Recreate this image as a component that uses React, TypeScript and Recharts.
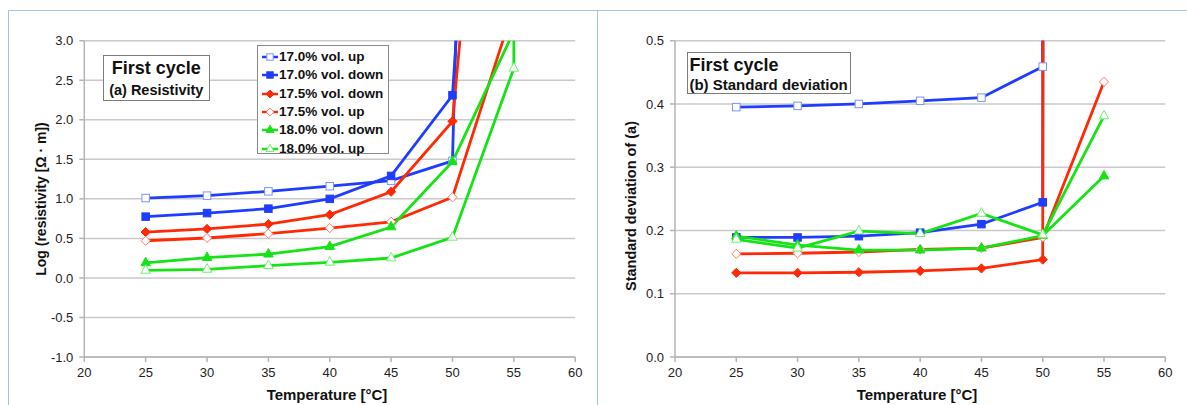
import React from 'react';
import { LineChart, Line, XAxis, YAxis, CartesianGrid, Legend } from 'recharts';

// ---------- data ----------
const temperatures = [25, 30, 35, 40, 45, 50, 55, 60];
const xTicks = [20, 25, 30, 35, 40, 45, 50, 55, 60];
const resistivityTicks = [-1, -0.5, 0, 0.5, 1, 1.5, 2, 2.5, 3];
const stdDevTicks = [0, 0.1, 0.2, 0.3, 0.4, 0.5];

// (a) log resistivity
const resUp170 = [1.01, 1.04, 1.095, 1.16, 1.23, 1.48, 30, null];
const resDown170 = [0.775, 0.82, 0.876, 1.0, 1.29, 2.31, 14, null];
const resDown175 = [0.58, 0.62, 0.68, 0.8, 1.09, 1.98, 10.4, null];
const resUp175 = [0.47, 0.505, 0.56, 0.63, 0.71, 1.02, 3.43, null];
const resDown180 = [0.19, 0.256, 0.3, 0.395, 0.644, 1.47, 3.12, null];
const resUp180 = [0.096, 0.108, 0.155, 0.197, 0.252, 0.513, 2.65, 5000];

// (b) standard deviation
const sdUp170 = [0.395, 0.397, 0.4, 0.405, 0.41, 0.459, 100, null];
const sdDown170 = [0.189, 0.189, 0.191, 0.1965, 0.21, 0.2445, 100, null];
const sdDown175 = [0.133, 0.133, 0.134, 0.136, 0.14, 0.154, 100, null];
const sdUp175 = [0.163, 0.164, 0.166, 0.17, 0.172, 0.189, 0.435, null];
const sdDown180 = [0.191, 0.177, 0.169, 0.169, 0.172, 0.192, 0.286, null];
const sdUp180 = [0.186, 0.172, 0.199, 0.195, 0.227, 0.193, 0.381, null];

// ---------- styles ----------
const FONT = '"Liberation Sans", Arial, Helvetica, sans-serif';
const BLUE = '#1f3cff';
const RED = '#ff2a05';
const GREEN = '#16e316';

type Shape = 'square' | 'diamond' | 'triangle';
interface SeriesDef {
  key: string;
  name: string;
  color: string;
  light: string;
  shape: Shape;
  filled: boolean;
}

const seriesDefs: SeriesDef[] = [
  { key: 'up170', name: '17.0% vol. up', color: BLUE, light: '#7d90ff', shape: 'square', filled: false },
  { key: 'down170', name: '17.0% vol. down', color: BLUE, light: BLUE, shape: 'square', filled: true },
  { key: 'down175', name: '17.5% vol. down', color: RED, light: RED, shape: 'diamond', filled: true },
  { key: 'up175', name: '17.5% vol. up', color: RED, light: '#ff7a66', shape: 'diamond', filled: false },
  { key: 'down180', name: '18.0% vol. down', color: GREEN, light: GREEN, shape: 'triangle', filled: true },
  { key: 'up180', name: '18.0% vol. up', color: GREEN, light: '#6cf26c', shape: 'triangle', filled: false },
];

function buildRows(cols: Record<string, (number | null)[]>) {
  return temperatures.map((t, i) => {
    const row: Record<string, number | null> = { t };
    Object.keys(cols).forEach((k) => {
      row[k] = cols[k][i];
    });
    return row;
  });
}

const resistivityRows = buildRows({
  up170: resUp170,
  down170: resDown170,
  down175: resDown175,
  up175: resUp175,
  down180: resDown180,
  up180: resUp180,
});

const stdDevRows = buildRows({
  up170: sdUp170,
  down170: sdDown170,
  down175: sdDown175,
  up175: sdUp175,
  down180: sdDown180,
  up180: sdUp180,
});

function MarkerShape({ cx, cy, def, scale = 1 }: { cx: number; cy: number; def: SeriesDef; scale?: number }) {
  const fill = def.filled ? def.color : '#ffffff';
  const stroke = def.filled ? def.color : def.light;
  const sw = 1;
  if (def.shape === 'square') {
    const s = 7.5 * scale;
    return <rect x={cx - s / 2} y={cy - s / 2} width={s} height={s} fill={fill} stroke={stroke} strokeWidth={sw} />;
  }
  if (def.shape === 'diamond') {
    const r = 4.6 * scale;
    const pts = `${cx},${cy - r} ${cx + r},${cy} ${cx},${cy + r} ${cx - r},${cy}`;
    return <polygon points={pts} fill={fill} stroke={stroke} strokeWidth={sw} />;
  }
  const w = 9.5 * scale;
  const h = 8.5 * scale;
  const pts = `${cx},${cy - (h * 2) / 3} ${cx + w / 2},${cy + h / 3} ${cx - w / 2},${cy + h / 3}`;
  return <polygon points={pts} fill={fill} stroke={stroke} strokeWidth={sw} />;
}

function makeDot(def: SeriesDef) {
  return (props: any) => {
    const { cx, cy, index } = props;
    const key = `${def.key}-dot-${index}`;
    if (cx == null || cy == null || !isFinite(cx) || !isFinite(cy)) return <g key={key} />;
    return (
      <g key={key}>
        <MarkerShape cx={cx} cy={cy} def={def} />
      </g>
    );
  };
}

function LegendBox() {
  return (
    <div
      style={{
        boxSizing: 'border-box',
        width: 132,
        height: 109,
        border: '1px solid #8a8a8a',
        background: '#ffffff',
        paddingTop: 2,
        paddingLeft: 3,
        fontFamily: FONT,
        fontWeight: 700,
        fontSize: 13.5,
        color: '#111',
      }}
    >
      {seriesDefs.map((d) => (
        <div key={d.key} style={{ height: 18.3, display: 'flex', alignItems: 'center', whiteSpace: 'nowrap' }}>
          <svg width={18} height={12} style={{ display: 'block', flex: 'none' }}>
            <line x1={1} y1={6} x2={17} y2={6} stroke={d.color} strokeWidth={2.5} />
            <MarkerShape cx={9} cy={6} def={d} scale={0.85} />
          </svg>
          <span style={{ lineHeight: '18px' }}>{d.name}</span>
        </div>
      ))}
    </div>
  );
}

const axisTick = { fill: '#222', fontSize: 13, fontFamily: FONT };
const axisLineStyle = { stroke: '#b4b4b4', strokeWidth: 1.5 };

function renderLines() {
  return seriesDefs.map((d) => (
    <Line
      key={d.key}
      type="linear"
      dataKey={d.key}
      name={d.name}
      stroke={d.color}
      strokeWidth={2.8}
      dot={makeDot(d)}
      activeDot={false}
      connectNulls={false}
      isAnimationActive={false}
    />
  ));
}

function ResistivityChart() {
  return (
    <LineChart
      width={600}
      height={405}
      data={resistivityRows}
      margin={{ top: 40.7, right: 24.8, bottom: 18, left: 24.3 }}
    >
      <CartesianGrid vertical={false} stroke="#c9c9c9" strokeWidth={1.5} />
      <XAxis
        dataKey="t"
        type="number"
        domain={[20, 60]}
        ticks={xTicks}
        interval={0}
        allowDataOverflow
        height={30}
        tick={axisTick}
        tickLine={axisLineStyle}
        axisLine={axisLineStyle}
        tickSize={5}
        tickMargin={6}
      />
      <YAxis
        type="number"
        domain={[-1, 3]}
        ticks={resistivityTicks}
        interval={0}
        allowDataOverflow
        width={60}
        tick={axisTick}
        tickLine={axisLineStyle}
        axisLine={axisLineStyle}
        tickSize={5}
        tickMargin={6}
        tickFormatter={(v: number) => v.toFixed(1)}
      />
      <Legend
        layout="vertical"
        align="center"
        verticalAlign="middle"
        wrapperStyle={{ position: 'absolute', left: 257, top: 45, width: 132, height: 109 }}
        content={() => <LegendBox />}
      />
      {renderLines()}
    </LineChart>
  );
}

function StdDevChart() {
  return (
    <LineChart
      width={587}
      height={405}
      data={stdDevRows}
      margin={{ top: 40.7, right: 21.7, bottom: 18, left: 15 }}
    >
      <CartesianGrid vertical={false} stroke="#c9c9c9" strokeWidth={1.5} />
      <XAxis
        dataKey="t"
        type="number"
        domain={[20, 60]}
        ticks={xTicks}
        interval={0}
        allowDataOverflow
        height={30}
        tick={axisTick}
        tickLine={axisLineStyle}
        axisLine={axisLineStyle}
        tickSize={5}
        tickMargin={6}
      />
      <YAxis
        type="number"
        domain={[0, 0.5]}
        ticks={stdDevTicks}
        interval={0}
        allowDataOverflow
        width={60}
        tick={axisTick}
        tickLine={axisLineStyle}
        axisLine={axisLineStyle}
        tickSize={5}
        tickMargin={6}
        tickFormatter={(v: number) => v.toFixed(1)}
      />
      {renderLines()}
    </LineChart>
  );
}

const labelBase: React.CSSProperties = {
  position: 'absolute',
  fontFamily: FONT,
  fontWeight: 700,
  color: '#111',
  whiteSpace: 'nowrap',
  lineHeight: 1,
};

export default function App() {
  return (
    <div
      style={{
        position: 'absolute',
        left: 0,
        top: 0,
        width: 1187,
        height: 405,
        overflow: 'hidden',
        background: '#ffffff',
        fontFamily: FONT,
      }}
    >
      {/* panel frames */}
      <div
        style={{
          position: 'absolute',
          left: 8,
          top: 10,
          width: 590,
          height: 420,
          boxSizing: 'border-box',
          borderLeft: '1.5px solid #a7c4e4',
          borderTop: '1.5px solid #a7c4e4',
          borderRight: '1.5px solid #a7c4e4',
        }}
      />
      <div
        style={{
          position: 'absolute',
          left: 598,
          top: 10,
          width: 600,
          height: 2,
          borderTop: '1.5px solid #a7c4e4',
        }}
      />

      <div style={{ position: 'absolute', left: 0, top: 0 }}>
        <ResistivityChart />
      </div>
      <div style={{ position: 'absolute', left: 600, top: 0 }}>
        <StdDevChart />
      </div>

      {/* title boxes */}
      <div
        style={{
          position: 'absolute',
          left: 102.6,
          top: 55.3,
          width: 107.4,
          height: 45.7,
          boxSizing: 'border-box',
          border: '1px solid #7c7c7c',
          background: '#fff',
          textAlign: 'center',
          fontFamily: FONT,
          fontWeight: 700,
          color: '#111',
          paddingTop: 2,
        }}
      >
        <div style={{ fontSize: 18, lineHeight: '21px' }}>First cycle</div>
        <div style={{ fontSize: 14.5, lineHeight: '19px', marginTop: 1.5 }}>(a) Resistivity</div>
      </div>
      <div
        style={{
          position: 'absolute',
          left: 686.9,
          top: 52.3,
          width: 163.9,
          height: 42,
          boxSizing: 'border-box',
          border: '1px solid #7c7c7c',
          background: '#fff',
          textAlign: 'left',
          fontFamily: FONT,
          fontWeight: 700,
          color: '#111',
          paddingTop: 1.9,
          paddingLeft: 1.5,
        }}
      >
        <div style={{ fontSize: 18, lineHeight: '21px' }}>First cycle</div>
        <div style={{ fontSize: 15, lineHeight: '18px' }}>(b) Standard deviation</div>
      </div>

      {/* axis titles */}
      <div style={{ ...labelBase, left: 41, top: 198.5, fontSize: 14, transform: 'translate(-50%, -50%) rotate(-90deg)' }}>
        Log (resistivity [Ω · m])
      </div>
      <div style={{ ...labelBase, left: 327, top: 394, fontSize: 15, transform: 'translate(-50%, -50%)' }}>
        Temperature [°C]
      </div>
      <div style={{ ...labelBase, left: 631, top: 206, fontSize: 14.5, transform: 'translate(-50%, -50%) rotate(-90deg)' }}>
        Standard deviation of (a)
      </div>
      <div style={{ ...labelBase, left: 917, top: 394, fontSize: 15, transform: 'translate(-50%, -50%)' }}>
        Temperature [°C]
      </div>
    </div>
  );
}
